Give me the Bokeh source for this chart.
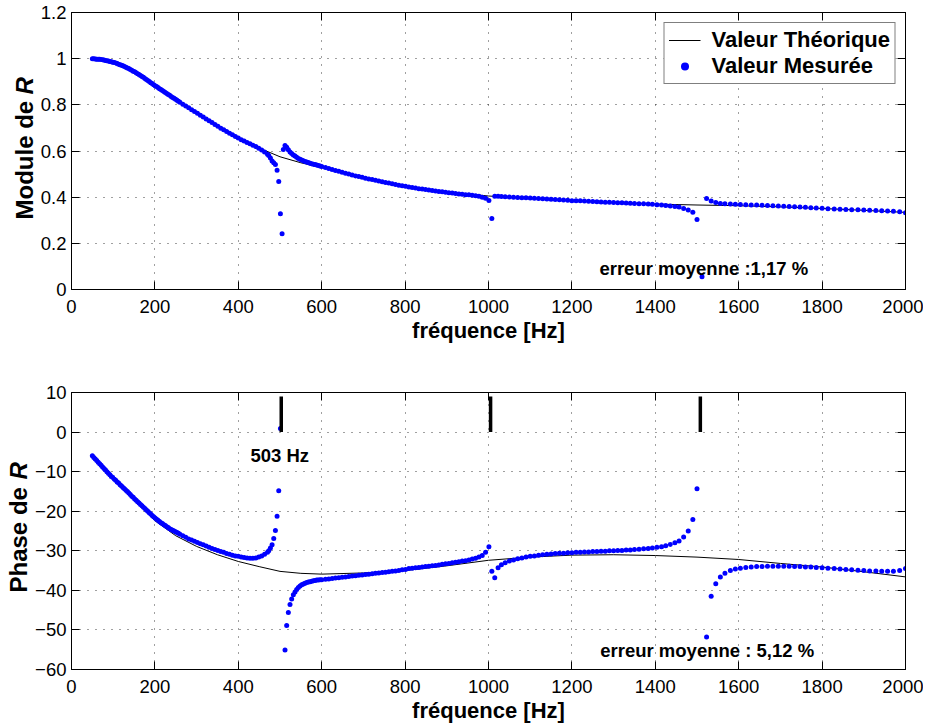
import math
import numpy as np
from bokeh.plotting import figure
from bokeh.models import Range1d, FixedTicker, LinearAxis, CustomJSTickFormatter, Label
from bokeh.core.properties import value
from bokeh.layouts import column, row
from bokeh.embed import file_html
from bokeh.resources import INLINE

nan = float("nan")

# ---------------- data ----------------
# measured frequencies [Hz]
freq_meas = [
    # 50 - 260
    50, 53.5, 57, 60.5, 64, 67.5, 71, 74.5, 78, 81.5, 85, 88.5, 92, 95.5, 99, 102.5, 106, 109.5,
    113, 116.5, 120, 123.5, 127, 130.5, 134, 137.5, 141, 144.5, 148, 151.5, 155, 158.5, 162, 165.5,
    169, 172.5, 176, 179.5, 183, 186.5, 190, 193.5, 197, 200.5, 204, 207.5, 211, 214.5, 218, 221.5,
    225, 228.5, 232, 235.5, 239, 242.5, 246, 249.5, 253, 256.5, 260,
    # 267 - 470
    267, 274, 281, 288, 295, 302, 309, 316, 323, 330, 337, 344, 351, 358, 365, 372, 379, 386, 393,
    400, 407, 414, 421, 428, 435, 442, 449, 456, 463, 470,
    # 473 - 600 (first resonance)
    473, 477, 481, 485, 489, 493, 497, 501, 505, 508, 512, 516, 520, 524, 528, 532, 536, 540, 544, 548,
    552, 556, 560, 564, 568, 572, 576, 580, 584, 588, 592, 596, 600,
    # 609 - 993
    609, 617, 625, 633, 641, 649, 657, 665, 673, 681, 689, 697, 705, 713, 721, 729, 737, 745, 753, 761,
    769, 777, 785, 793, 801, 809, 817, 825, 833, 841, 849, 857, 865, 873, 881, 889, 897, 905, 913, 921,
    929, 937, 945, 953, 961, 969, 977, 985, 993,
    # 1001 - 1545 (second and third resonance)
    1001, 1008, 1015, 1023, 1031, 1040, 1050, 1060, 1070, 1080, 1090, 1100, 1110, 1120, 1130, 1140,
    1150, 1160, 1170, 1180, 1190, 1200, 1210, 1220, 1230, 1240, 1250, 1260, 1270, 1280, 1290, 1300,
    1310, 1320, 1330, 1340, 1350, 1361, 1372, 1383, 1393, 1404, 1415, 1425, 1436, 1447, 1457, 1468,
    1479, 1490, 1500, 1512, 1523, 1534, 1545,
    # 1556 - 2000
    1556, 1567, 1580, 1592, 1604, 1617, 1630, 1643, 1656, 1669, 1682, 1695, 1708, 1721, 1734, 1747,
    1760, 1773, 1786, 1800, 1814, 1829, 1843, 1857, 1871, 1886, 1900, 1914, 1929, 1943, 1957, 1971,
    1986, 2000,
]

# measured modulus of R
module_meas = [
    1.000, 1.000, 0.999, 0.998, 0.998, 0.997, 0.996, 0.995, 0.994, 0.992, 0.991, 0.990, 0.988, 0.987,
    0.985, 0.983, 0.981, 0.979, 0.976, 0.974, 0.971, 0.969, 0.966, 0.963, 0.960, 0.957, 0.953, 0.950,
    0.946, 0.943, 0.939, 0.935, 0.931, 0.927, 0.923, 0.919, 0.914, 0.910, 0.905, 0.901, 0.896, 0.892,
    0.887, 0.883, 0.879, 0.875, 0.870, 0.866, 0.862, 0.858, 0.853, 0.849, 0.845, 0.841, 0.836, 0.832,
    0.828, 0.824, 0.820, 0.816, 0.811,
    0.803, 0.795, 0.787, 0.779, 0.771, 0.763, 0.755, 0.747, 0.739, 0.731, 0.723, 0.715, 0.707, 0.699,
    0.692, 0.684, 0.677, 0.670, 0.663, 0.656, 0.649, 0.643, 0.637, 0.631, 0.625, 0.619, 0.612, 0.604,
    0.596, 0.586,
    0.580, 0.570, 0.557, 0.549, 0.541, 0.517, 0.468, 0.328, 0.241, 0.607, 0.624, 0.616, 0.605, 0.596,
    0.589, 0.583, 0.578, 0.573, 0.568, 0.564, 0.561, 0.558, 0.555, 0.552, 0.550, 0.547, 0.545, 0.543,
    0.541, 0.539, 0.537, 0.535, 0.533,
    0.528, 0.524, 0.520, 0.516, 0.512, 0.508, 0.504, 0.500, 0.496, 0.492, 0.489, 0.486, 0.482, 0.479,
    0.476, 0.473, 0.470, 0.467, 0.464, 0.461, 0.458, 0.455, 0.452, 0.449, 0.447, 0.444, 0.442, 0.440,
    0.437, 0.435, 0.433, 0.431, 0.429, 0.427, 0.425, 0.423, 0.421, 0.419, 0.418, 0.416, 0.414, 0.413,
    0.411, 0.410, 0.408, 0.406, 0.404, 0.400, 0.395,
    0.386, 0.308, 0.404, 0.404, 0.403, 0.402, 0.401, 0.400, 0.399, 0.398, 0.397, 0.396, 0.395, 0.394,
    0.393, 0.392, 0.391, 0.390, 0.389, 0.388, 0.387, 0.385, 0.384, 0.384, 0.383, 0.382, 0.381, 0.380,
    0.379, 0.378, 0.378, 0.377, 0.376, 0.376, 0.375, 0.374, 0.373, 0.372, 0.371, 0.370, 0.369, 0.367,
    0.366, 0.364, 0.362, 0.360, 0.357, 0.351, 0.344, 0.335, 0.303, 0.055, 0.394, 0.383, 0.377,
    0.373, 0.371, 0.370, 0.369, 0.368, 0.367, 0.366, 0.366, 0.365, 0.364, 0.363, 0.362, 0.361, 0.360,
    0.358, 0.357, 0.356, 0.354, 0.353, 0.352, 0.350, 0.349, 0.348, 0.347, 0.346, 0.345, 0.344, 0.343,
    0.342, 0.341, 0.340, 0.339, 0.337, 0.333,
]

# measured phase of R [deg]  (nan = point outside the plotted range)
phase_meas = [
    -6.0, -6.4, -6.8, -7.2, -7.6, -8.0, -8.4, -8.8, -9.2, -9.6, -10.0, -10.4, -10.8, -11.2, -11.5,
    -11.9, -12.2, -12.6, -12.9, -13.3, -13.6, -14.0, -14.3, -14.7, -15.0, -15.4, -15.8, -16.2, -16.5,
    -16.9, -17.2, -17.6, -17.9, -18.3, -18.6, -19.0, -19.3, -19.7, -20.0, -20.4, -20.7, -21.1, -21.4,
    -21.7, -22.0, -22.3, -22.6, -22.9, -23.1, -23.4, -23.6, -23.9, -24.1, -24.4, -24.6, -24.8, -25.0,
    -25.2, -25.4, -25.6, -25.8,
    -26.2, -26.6, -27.0, -27.3, -27.6, -27.9, -28.2, -28.5, -28.8, -29.1, -29.4, -29.7, -29.9, -30.2,
    -30.4, -30.7, -30.9, -31.1, -31.3, -31.4, -31.6, -31.7, -31.8, -31.9, -31.9, -31.8, -31.6, -31.3,
    -30.9, -30.4,
    -30.0, -29.3, -28.5, -26.9, -24.9, -21.3, -14.8, 0.9, nan, nan, -55.1, -48.9, -45.6, -43.6,
    -42.2, -41.1, -40.4, -39.8, -39.3, -38.9, -38.6, -38.4, -38.2, -38.0, -37.9, -37.8, -37.7, -37.6,
    -37.5, -37.4, -37.4, -37.3, -37.3,
    -37.2, -37.1, -37.0, -36.9, -36.8, -36.7, -36.6, -36.5, -36.4, -36.3, -36.2, -36.1, -36.0, -35.9,
    -35.8, -35.7, -35.6, -35.5, -35.4, -35.3, -35.2, -35.1, -35.0, -34.8, -34.7, -34.5, -34.4, -34.3,
    -34.2, -34.1, -34.0, -33.9, -33.8, -33.7, -33.6, -33.4, -33.3, -33.2, -33.0, -32.9, -32.8, -32.6,
    -32.5, -32.3, -32.1, -31.9, -31.6, -31.2, -30.4,
    -29.0, -35.2, -36.8, -34.3, -33.5, -33.0, -32.6, -32.3, -32.0, -31.8, -31.6, -31.4, -31.3, -31.1,
    -31.0, -30.9, -30.8, -30.7, -30.6, -30.6, -30.5, -30.5, -30.4, -30.4, -30.3, -30.3, -30.2, -30.2,
    -30.1, -30.1, -30.0, -30.0, -29.9, -29.9, -29.8, -29.8, -29.7, -29.6, -29.5, -29.4, -29.3, -29.1,
    -29.0, -28.7, -28.4, -28.0, -27.5, -26.5, -25.0, -22.1, -14.3, nan, -51.8, -41.5, -38.3,
    -36.6, -35.7, -35.0, -34.6, -34.4, -34.2, -34.1, -34.0, -34.0, -33.9, -33.9, -33.9, -33.9, -33.9,
    -34.0, -34.0, -34.1, -34.1, -34.2, -34.3, -34.4, -34.5, -34.6, -34.7, -34.8, -34.9, -35.0, -35.1,
    -35.1, -35.2, -35.2, -35.2, -35.0, -34.5,
]

# theoretical curves
freq_theory = [50, 75, 100, 150, 200, 250, 300, 350, 400, 450, 500, 550, 600, 700, 800, 900, 1000,
               1100, 1200, 1300, 1400, 1500, 1600, 1700, 1800, 1900, 2000]
module_theory = [1.000, 0.995, 0.984, 0.945, 0.884, 0.823, 0.765, 0.708, 0.655, 0.613, 0.575, 0.549,
                 0.528, 0.485, 0.447, 0.423, 0.405, 0.394, 0.385, 0.377, 0.370, 0.366, 0.363, 0.358,
                 0.351, 0.343, 0.334]
phase_theory = [-6.0, -8.9, -11.6, -17.0, -22.4, -26.2, -28.9, -31.0, -32.7, -34.0, -35.2, -35.7,
                -35.9, -35.6, -35.0, -33.8, -32.4, -31.6, -31.1, -31.0, -31.2, -31.6, -32.2, -33.2,
                -34.1, -35.3, -36.6]

# resonance markers on the phase plot
resonance_freqs = [503, 1005, 1508]
resonance_bar_low = [0, 0, 0]
resonance_bar_high = [9, 9, 9]

x_ticks = [0, 200, 400, 600, 800, 1000, 1200, 1400, 1600, 1800, 2000]
module_ticks = [0, 0.2, 0.4, 0.6, 0.8, 1.0, 1.2]
phase_ticks = [-60, -50, -40, -30, -20, -10, 0, 10]

assert len(freq_meas) == len(module_meas) == len(phase_meas)

FONT = "Liberation Sans"
BLUE = "#0000ff"
FRAME_W, FRAME_H = 834, 277
FRAME_LEFT = 71


def make_fig(y_range, y_ticks, fmt_code, label_w, border_top, border_bottom):
    p = figure(output_backend="svg", toolbar_location=None,
               frame_width=FRAME_W, frame_height=FRAME_H,
               x_range=Range1d(0, 2000), y_range=y_range,
               min_border_left=FRAME_LEFT - label_w, min_border_right=18,
               min_border_top=border_top, min_border_bottom=border_bottom)
    p.outline_line_color = "black"
    p.outline_line_width = 1
    xa = p.xaxis[0]
    ya = p.yaxis[0]
    xa.ticker = FixedTicker(ticks=x_ticks)
    ya.ticker = FixedTicker(ticks=y_ticks)
    ya.formatter = CustomJSTickFormatter(code=fmt_code)
    for ax in (xa, ya):
        ax.major_tick_in = 8
        ax.major_tick_out = 0
        ax.minor_tick_in = 0
        ax.minor_tick_out = 0
        ax.axis_line_color = "black"
        ax.major_tick_line_color = "black"
        ax.major_label_text_font = FONT
        ax.major_label_text_font_size = "18.5px"
        ax.major_label_text_color = "black"
    xa.major_label_standoff = 10
    ya.major_label_standoff = 5
    xa.axis_label = "fréquence [Hz]"
    xa.axis_label_text_font = FONT
    xa.axis_label_text_font_size = "22px"
    xa.axis_label_text_font_style = "bold"
    xa.axis_label_text_color = "black"
    xa.axis_label_standoff = 2
    p.grid.grid_line_color = "black"
    p.grid.grid_line_alpha = 0.75
    p.grid.grid_line_width = 1
    p.grid.grid_line_dash = "1 7"
    for loc, ticks in (("right", y_ticks), ("above", x_ticks)):
        ax = LinearAxis(ticker=FixedTicker(ticks=ticks),
                        formatter=CustomJSTickFormatter(code="return '';"),
                        major_label_text_font_size="0px", major_label_standoff=0,
                        major_tick_in=8, major_tick_out=0,
                        minor_tick_in=0, minor_tick_out=0,
                        axis_line_color="black", major_tick_line_color="black")
        p.add_layout(ax, loc)
    return p


def label_fig(label_w, border_top, border_bottom, x_center, y_main, y_r, text):
    # narrow companion canvas holding the rotated y-axis title ("... de" bold + "R" bold italic)
    lf = figure(output_backend="svg", toolbar_location=None,
                frame_width=label_w, frame_height=FRAME_H,
                x_range=Range1d(0, label_w), y_range=Range1d(0, FRAME_H),
                x_axis_type=None, y_axis_type=None,
                min_border_left=0, min_border_right=0,
                min_border_top=border_top, min_border_bottom=border_bottom)
    lf.outline_line_color = None
    lf.text(x=[x_center], y=[y_main], text=[text], angle=math.pi / 2,
            text_align="left", text_baseline="middle",
            text_font=value(FONT), text_font_size=value("24px"),
            text_font_style=value("bold"), text_color="black")
    lf.text(x=[x_center], y=[y_r], text=["R"], angle=math.pi / 2,
            text_align="left", text_baseline="middle",
            text_font=value(FONT), text_font_size=value("24px"),
            text_font_style=value("bold italic"), text_color="black")
    return lf


def note(p, x, y, text):
    p.add_layout(Label(x=x, y=y, text=text, text_align="left", text_baseline="alphabetic",
                       text_font=FONT, text_font_size="18.5px", text_font_style="bold",
                       text_color="black"))


fq = np.array(freq_meas, dtype=float)

TOP1, BOT1, TOP2, BOT2 = 12, 88, 15, 56
LW1, LW2 = 37, 32

# ---------------- modulus ----------------
p1 = make_fig(Range1d(0, 1.2), module_ticks,
              "return String(Math.round(tick * 10) / 10);", LW1, TOP1, BOT1)
p1.line(freq_theory, module_theory, line_color="black", line_width=1,
        legend_label="Valeur Théorique")
p1.scatter(fq, np.array(module_meas, dtype=float), marker="circle", size=5,
           fill_color=BLUE, line_color=None, legend_label="Valeur Mesurée")
lg = p1.legend[0]
lg.location = "top_right"
lg.margin = 10
lg.padding = 4
lg.spacing = 0
lg.glyph_width = 32
lg.glyph_height = 20
lg.label_standoff = 11
lg.label_text_font = FONT
lg.label_text_font_size = "22px"
lg.label_text_font_style = "bold"
lg.label_text_color = "black"
lg.border_line_color = "black"
lg.border_line_width = 1
lg.background_fill_color = "white"
lg.background_fill_alpha = 1.0
note(p1, 1266, 0.093, "erreur moyenne :1,17 %")
l1 = label_fig(LW1, TOP1, BOT1, 23.5, 70, 195, "Module de")

# ---------------- phase ----------------
p2 = make_fig(Range1d(-60, 10), phase_ticks,
              "return tick < 0 ? '\\u2212' + String(-tick) : String(tick);", LW2, TOP2, BOT2)
p2.line(freq_theory, phase_theory, line_color="black", line_width=1)
p2.scatter(fq, np.array(phase_meas, dtype=float), marker="circle", size=5,
           fill_color=BLUE, line_color=None)
p2.segment(x0=resonance_freqs, y0=resonance_bar_low, x1=resonance_freqs, y1=resonance_bar_high,
           line_color="black", line_width=3.5)
note(p2, 429, -5.8, "503 Hz")
note(p2, 1268, -55.2, "erreur moyenne : 5,12 %")
l2 = label_fig(LW2, TOP2, BOT2, 18, 77, 190, "Phase de")

layout = column(row(l1, p1, spacing=0), row(l2, p2, spacing=0), spacing=0)
open("out.html", "w").write(file_html(layout, INLINE))
